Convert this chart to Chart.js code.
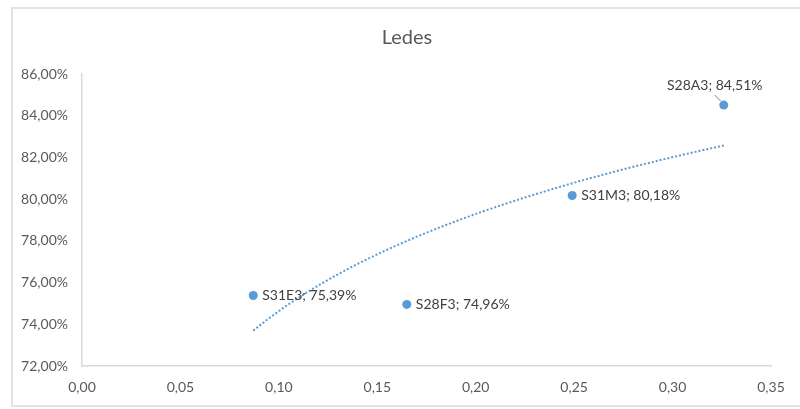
<!DOCTYPE html>
<html>
<head>
<meta charset="utf-8">
<script src="https://cdn.jsdelivr.net/npm/chart.js@4.4.1/dist/chart.umd.min.js"></script>
<style>
  html, body { margin: 0; padding: 0; background: #fff; overflow: hidden; }
  #wrap { position: relative; width: 800px; height: 409px; }
  #frame { position: absolute; left: 11px; top: 7px; width: 800px; height: 396px;
           border: 2px solid #e2e2e2; pointer-events: none; }
</style>
</head>
<body>
<div id="wrap">
  <canvas id="ledesChart" width="800" height="409"></canvas>
  <div id="frame"></div>
</div>
<script>
// data
const sampleNames = ['S31E3', 'S28F3', 'S31M3', 'S28A3'];
const xValues = [0.087, 0.165, 0.249, 0.326];
const yValues = [75.39, 74.96, 80.18, 84.51]; // percent
const labelSide = ['right', 'right', 'right', 'above'];

const fmtPct = v => v.toFixed(2).replace('.', ',') + '%';
const fmtNum = v => v.toFixed(2).replace('.', ',');

const points = xValues.map((x, i) => ({ x: x, y: yValues[i] }));

// logarithmic trendline (least squares on ln x), like Excel's
const lnX = xValues.map(x => Math.log(x));
const meanLn = lnX.reduce((a, b) => a + b, 0) / lnX.length;
const meanY = yValues.reduce((a, b) => a + b, 0) / yValues.length;
let sxy = 0, sxx = 0;
lnX.forEach((l, i) => {
  sxy += (l - meanLn) * (yValues[i] - meanY);
  sxx += (l - meanLn) * (l - meanLn);
});
const slope = sxy / sxx;
const intercept = meanY - slope * meanLn;
const xMin = Math.min(...xValues), xMax = Math.max(...xValues);
const trend = [];
for (let k = 0; k <= 80; k++) {
  const x = xMin + (xMax - xMin) * k / 80;
  trend.push({ x: x, y: intercept + slope * Math.log(x) });
}

// draw "name; value" labels next to each point
const pointLabels = {
  id: 'pointLabels',
  afterDatasetsDraw(chart) {
    const ctx = chart.ctx;
    const meta = chart.getDatasetMeta(1);
    ctx.save();
    ctx.font = '14px Lato';
    ctx.fillStyle = '#404040';
    ctx.textBaseline = 'middle';
    meta.data.forEach((el, i) => {
      const text = sampleNames[i] + '; ' + fmtPct(yValues[i]);
      if (labelSide[i] === 'above') {
        ctx.textAlign = 'center';
        ctx.fillText(text, el.x - 9, el.y - 20);
        ctx.strokeStyle = '#7f7f7f';
        ctx.lineWidth = 1;
        ctx.beginPath();
        ctx.moveTo(el.x - 9, el.y - 10);
        ctx.lineTo(el.x - 3, el.y - 4);
        ctx.stroke();
      } else {
        ctx.textAlign = 'left';
        ctx.fillText(text, el.x + 9, el.y);
      }
    });
    ctx.restore();
  }
};

const tickFont = { family: 'Lato', size: 14 };

const ctx = document.getElementById('ledesChart').getContext('2d');
new Chart(ctx, {
  type: 'scatter',
  data: {
    datasets: [
      {
        label: 'Trend',
        data: trend,
        showLine: true,
        pointRadius: 0,
        borderColor: '#5B9BD5',
        borderWidth: 2,
        borderDash: [2, 2],
        fill: false,
      },
      {
        label: 'Ledes',
        data: points,
        pointRadius: 4.5,
        backgroundColor: '#5B9BD5',
        borderColor: '#5B9BD5',
        borderWidth: 0,
      },
    ],
  },
  options: {
    responsive: false,
    animation: false,
    layout: { padding: { left: 14, right: 0, top: 10, bottom: 0 } },
    plugins: {
      legend: { display: false },
      tooltip: { enabled: false },
      title: {
        display: true,
        text: 'Ledes',
        color: '#595959',
        font: { family: 'Lato', size: 20, weight: 'normal' },
        padding: { top: 16, bottom: 24 },
      },
    },
    scales: {
      x: {
        type: 'linear',
        min: 0,
        max: 0.35,
        ticks: { stepSize: 0.05, callback: v => fmtNum(v), color: '#595959', font: tickFont, padding: 13 },
        grid: { display: false, drawTicks: false },
        border: { display: true, color: '#d9d9d9', width: 1.5 },
      },
      y: {
        min: 72,
        max: 86,
        ticks: { stepSize: 2, callback: v => fmtPct(v), color: '#595959', font: tickFont, padding: 14 },
        grid: { display: false, drawTicks: false },
        border: { display: true, color: '#d9d9d9', width: 1.5 },
        afterFit(axis) { axis.width = 68; },
      },
      // empty right-hand spacer so the plot stops where the reference does
      spacer: {
        position: 'right',
        ticks: { display: false },
        grid: { display: false, drawTicks: false },
        border: { display: false },
        afterFit(axis) { axis.width = 29; },
      },
    },
  },
  plugins: [pointLabels],
});
</script>
</body>
</html>
